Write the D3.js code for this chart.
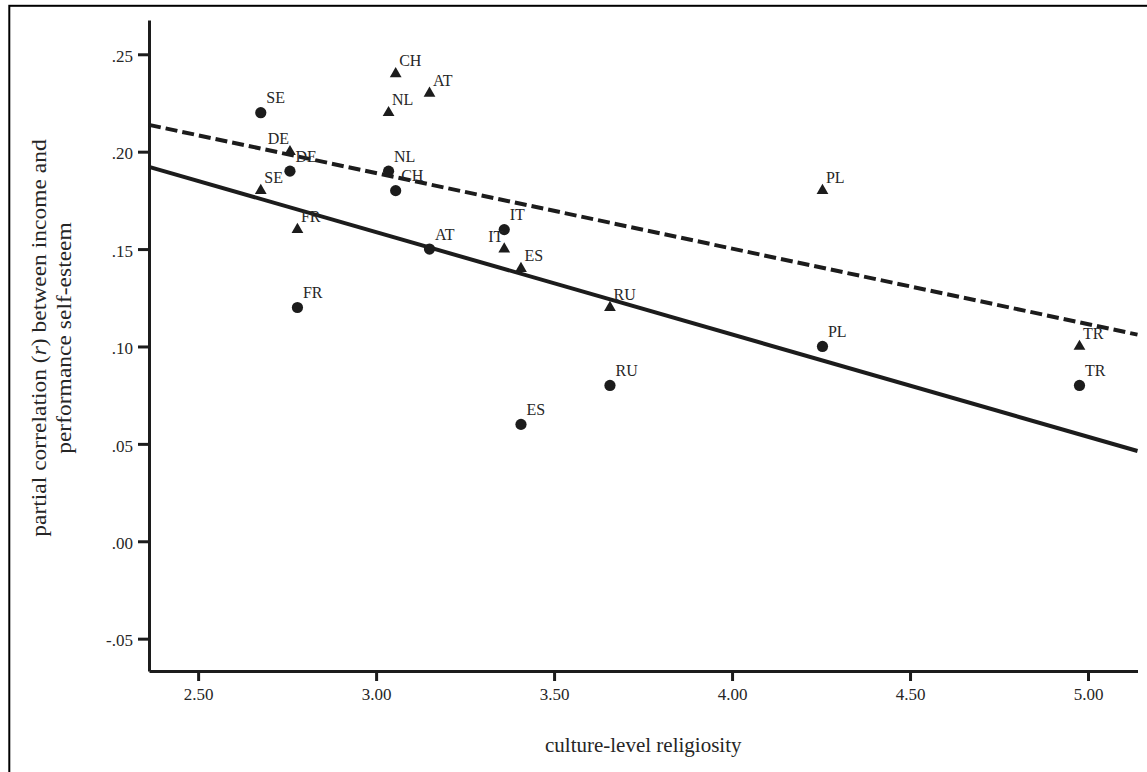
<!DOCTYPE html>
<html>
<head>
<meta charset="utf-8">
<script src="https://cdn.jsdelivr.net/npm/d3@7"></script>
<style>
  body { margin: 0; background: #fff; }
  svg { display: block; }
  text { font-family: "Liberation Serif", "DejaVu Serif", serif; fill: #262626; }
  .axis path, .axis line { stroke: #1c1c1c; stroke-width: 3; }
  .axis text { font-size: 17px; }
</style>
</head>
<body>
<div id="chart"></div>
<script>
// countries, same religiosity value for both groups
var countries = ["SE", "DE", "FR", "NL", "CH", "AT", "IT", "ES", "RU", "PL", "TR"]
var religiosity = [2.676, 2.758, 2.779, 3.035, 3.055, 3.150, 3.360, 3.407, 3.657, 4.254, 4.976]

// partial correlations, circles (solid fit) and triangles (dashed fit)
var circleValues = [0.22, 0.19, 0.12, 0.19, 0.18, 0.15, 0.16, 0.06, 0.08, 0.10, 0.08]
var triangleValues = [0.18, 0.20, 0.16, 0.22, 0.24, 0.23, 0.15, 0.14, 0.12, 0.18, 0.10]

var xTicks = [2.5, 3.0, 3.5, 4.0, 4.5, 5.0]
var yTicks = [-0.05, 0.00, 0.05, 0.10, 0.15, 0.20, 0.25]

// labels drawn on the left of their marker
var leftLabels = { "triangle:DE": true, "triangle:IT": true }

var width = 1147, height = 772

var svg = d3.select("#chart").append("svg")
  .attr("width", width)
  .attr("height", height)

// outer frame, only top and left edges show
svg.append("rect")
  .attr("x", 9.3)
  .attr("y", 5.8)
  .attr("width", width + 20)
  .attr("height", height + 20)
  .attr("fill", "none")
  .attr("stroke", "#000")
  .attr("stroke-width", 2)

var x = d3.scaleLinear().domain([2.362, 5.139]).range([149, 1137.5])
var y = d3.scaleLinear().domain([-0.0666, 0.2676]).range([671, 20])

// SPSS style: no leading zero, plain hyphen for minus
var fmtY = function (d) {
  return d3.format(".2f")(d).replace("0.", ".").replace("\u2212", "-")
}

var yAxis = svg.append("g")
  .attr("class", "axis")
  .attr("transform", "translate(" + x.range()[0] + ",0)")
  .call(d3.axisLeft(y).tickValues(yTicks).tickFormat(fmtY).tickSize(11).tickSizeOuter(0).tickPadding(5))
yAxis.selectAll("text").attr("dy", "0.42em")

var xAxis = svg.append("g")
  .attr("class", "axis")
  .attr("transform", "translate(0," + y.range()[0] + ")")
  .call(d3.axisBottom(x).tickValues(xTicks).tickFormat(d3.format(".2f")).tickSize(10).tickSizeOuter(0).tickPadding(7))

// fit lines (least squares on each group)
function fitLine(xs, ys) {
  var mx = d3.mean(xs), my = d3.mean(ys)
  var sxy = d3.sum(xs, function (v, i) { return (v - mx) * (ys[i] - my) })
  var sxx = d3.sum(xs, function (v) { return (v - mx) * (v - mx) })
  var slope = sxy / sxx
  return function (v) { return my + slope * (v - mx) }
}

var lines = [
  { values: triangleValues, dash: "12,5" },
  { values: circleValues, dash: null }
]

var lineGen = d3.line()
  .x(function (d) { return x(d[0]) })
  .y(function (d) { return y(d[1]) })

lines.forEach(function (l) {
  var f = fitLine(religiosity, l.values)
  var dom = x.domain()
  svg.append("path")
    .attr("d", lineGen([[dom[0], f(dom[0])], [dom[1], f(dom[1])]]))
    .attr("fill", "none")
    .attr("stroke", "#1c1c1c")
    .attr("stroke-width", 4)
    .attr("stroke-dasharray", l.dash)
})

// markers and labels
var series = [
  { kind: "circle", values: circleValues, symbol: d3.symbolCircle, size: Math.PI * 5.6 * 5.6, dx: 5.5, dy: -8.5 },
  { kind: "triangle", values: triangleValues, symbol: d3.symbolTriangle, size: 60, dx: 3.5, dy: -6.5 }
]

series.forEach(function (s) {
  var pts = countries.map(function (c, i) {
    return { name: c, x: religiosity[i], y: s.values[i] }
  })
  var g = svg.append("g").attr("class", s.kind)

  g.selectAll("path.marker")
    .data(pts)
    .enter().append("path")
      .attr("class", "marker")
      .attr("transform", function (d) { return "translate(" + x(d.x) + "," + y(d.y) + ")" })
      .attr("d", d3.symbol().type(s.symbol).size(s.size))
      .attr("fill", "#1c1c1c")

  g.selectAll("text")
    .data(pts)
    .enter().append("text")
      .attr("x", function (d) {
        return leftLabels[s.kind + ":" + d.name] ? x(d.x) - 1 : x(d.x) + s.dx
      })
      .attr("y", function (d) { return y(d.y) + s.dy - 1 })
      .attr("text-anchor", function (d) {
        return leftLabels[s.kind + ":" + d.name] ? "end" : "start"
      })
      .attr("font-size", 16)
      .text(function (d) { return d.name })
})

// axis titles
svg.append("text")
  .attr("x", (x.range()[0] + x.range()[1]) / 2)
  .attr("y", 752)
  .attr("text-anchor", "middle")
  .attr("font-size", 21)
  .text("culture-level religiosity")

// the y title is drawn a little stretched along its length, as in the source
var yTitle = svg.append("text")
  .attr("transform", "translate(46,338) rotate(-90) scale(1.12,1)")
  .attr("text-anchor", "middle")
  .attr("font-size", 21)

var line1 = yTitle.append("tspan").attr("x", 0).attr("y", 0)
line1.append("tspan").text("partial correlation (")
line1.append("tspan").attr("font-style", "italic").text("r")
line1.append("tspan").text(") between income and")
yTitle.append("tspan").attr("x", 0).attr("dy", 25).text("performance self-esteem")
</script>
</body>
</html>
